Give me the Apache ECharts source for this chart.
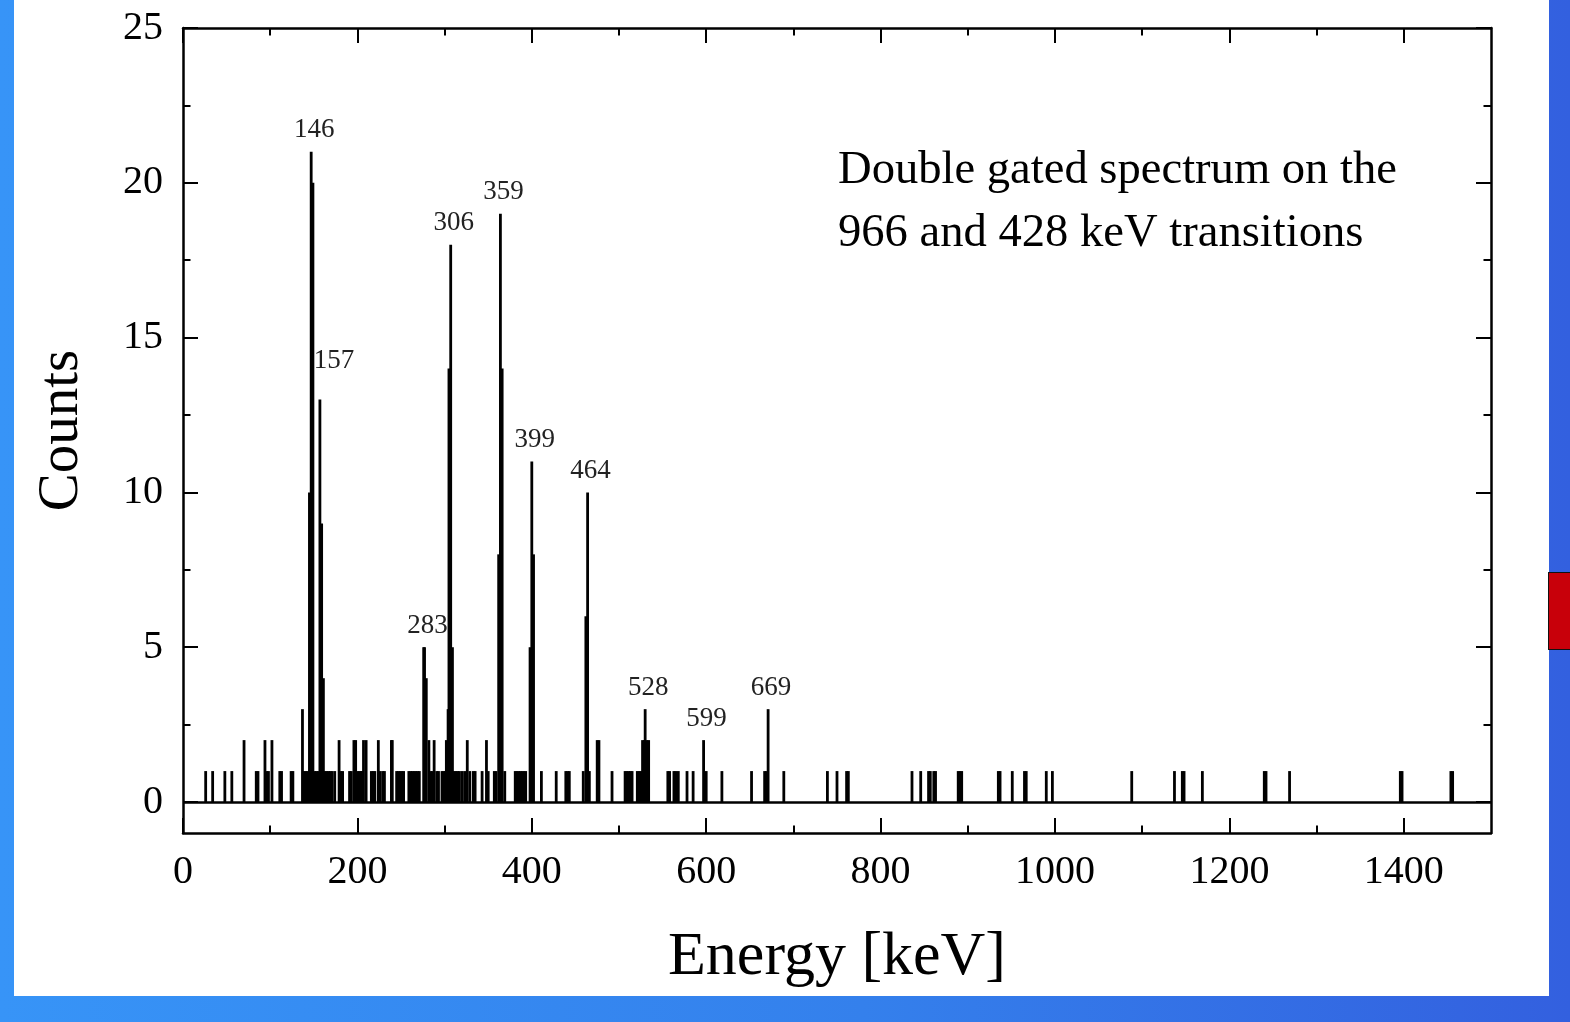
<!DOCTYPE html>
<html>
<head>
<meta charset="utf-8">
<script src="https://cdn.jsdelivr.net/npm/echarts@6/dist/echarts.min.js"></script>
<style>
  html, body { margin: 0; padding: 0; width: 1570px; height: 1022px; overflow: hidden; }
  body { background: linear-gradient(90deg, #3794f7 0%, #3480ec 55%, #3360df 100%); }
  #panel { position: absolute; left: 14px; top: 0; width: 1535px; height: 996px; background: #fff; }
  #tab { position: absolute; left: 1548px; top: 572px; width: 24px; height: 78px; background: #c8000a;
         border: 1.5px solid #111; box-sizing: border-box; }
  #chart { position: absolute; left: 0; top: 0; width: 1570px; height: 1022px; }
</style>
</head>
<body>
<div id="panel"></div>
<div id="tab"></div>
<div id="chart"></div>
<script>
// Gamma-ray spectrum, 1 keV channels that hold at least one count
const energies = [
  26, 34, 48, 56, 70, 84, 86, 94, 96, 98, 102, 111, 113, 124, 126,
  137, 139, 141, 143, 145, 147, 149, 151, 153, 155, 157, 159, 161,
  163, 165, 167, 169, 171, 174, 179, 181, 183, 191, 193, 196, 198,
  200, 202, 204, 205, 207, 210, 216, 218, 220, 224, 226, 229, 231,
  239, 240, 245, 247, 249, 251, 253, 259, 261, 263, 265, 267, 269, 271,
  276, 277, 279, 282, 284, 286, 288, 291, 293, 297, 299, 301,
  302, 304, 305, 307, 309, 311, 313, 315, 317, 320, 323, 326, 329, 333, 335,
  343, 348, 350, 357, 359, 362, 364, 366, 369,
  381, 383, 385, 387, 389, 391, 393, 398, 400, 402, 411, 428, 439, 441, 443,
  459, 462, 464, 466, 475, 477, 492, 507, 509, 511, 513, 515,
  521, 523, 525, 527, 529, 530, 532, 534, 556, 558, 563, 565, 568,
  578, 585, 597, 600, 618, 652, 667, 669, 671, 689,
  739, 750, 761, 763, 836, 846, 855, 857, 861, 863, 889, 891, 893,
  935, 937, 951, 965, 967, 990, 997, 1088, 1137, 1146, 1148, 1169,
  1240, 1242, 1269, 1396, 1398, 1454, 1456
];
const counts = [
  1, 1, 1, 1, 2, 1, 1, 2, 1, 1, 2, 1, 1, 1, 1,
  3, 1, 1, 1, 10, 21, 20, 1, 1, 1, 13, 9, 4,
  1, 1, 1, 1, 1, 1, 2, 1, 1, 1, 1, 2, 2,
  1, 1, 1, 1, 2, 2, 1, 1, 1, 2, 1, 1, 1,
  2, 2, 1, 1, 1, 1, 1, 1, 1, 1, 1, 1, 1, 1,
  5, 5, 4, 2, 1, 1, 2, 1, 1, 1, 1, 1,
  2, 3, 14, 18, 5, 1, 1, 1, 1, 1, 1, 2, 1, 1, 1,
  1, 2, 1, 1, 1, 8, 19, 14, 1,
  1, 1, 1, 1, 1, 1, 1, 5, 11, 8, 1, 1, 1, 1, 1,
  1, 6, 10, 1, 2, 2, 1, 1, 1, 1, 1, 1,
  1, 1, 1, 2, 2, 3, 2, 2, 1, 1, 1, 1, 1,
  1, 1, 2, 1, 1, 1, 1, 1, 3, 1,
  1, 1, 1, 1, 1, 1, 1, 1, 1, 1, 1, 1, 1,
  1, 1, 1, 1, 1, 1, 1, 1, 1, 1, 1, 1,
  1, 1, 1, 1, 1, 1, 1
];

// Peak identifications: label text and the channel it sits on
const peakNames    = ['146', '157', '283', '306', '359', '399', '464', '528', '599', '669'];
const peakChannels = [147,   157,   277,   307,   364,   400,   464,   530,   597,   671];

// Axis tick values
const xMajorTicks = [0, 200, 400, 600, 800, 1000, 1200, 1400];
const xMinorTicks = [100, 300, 500, 700, 900, 1100, 1300];
const yMajorTicks = [0, 5, 10, 15, 20, 25];
const yMinorTicks = [2.5, 7.5, 12.5, 17.5, 22.5];

const SERIF = '"Liberation Serif", "DejaVu Serif", serif';
const INK = '#000';

const barData = energies.map((e, i) => {
  const k = peakChannels.indexOf(e);
  if (k < 0) return [e, counts[i]];
  const isSide = peakNames[k] === '157';
  return {
    value: [e, counts[i]],
    label: {
      show: true,
      position: 'top',
      distance: 8,
      offset: isSide ? [14, -17] : [3, 0],
      formatter: peakNames[k],
      fontFamily: SERIF,
      fontSize: 27,
      color: '#222'
    }
  };
});

function xAxisDef(pos, ticks, len, withLine, withLabels, name) {
  return {
    type: 'value', position: pos, min: 0, max: 1500,
    name: name || '', nameLocation: 'middle', nameGap: 94,
    nameTextStyle: { fontFamily: SERIF, fontSize: 62, color: INK },
    axisLine: { show: withLine, onZero: false, lineStyle: { color: INK, width: 2.5 } },
    axisTick: { show: true, inside: true, length: len, customValues: ticks,
                lineStyle: { color: INK, width: 2 } },
    axisLabel: { show: withLabels, customValues: ticks, margin: 19,
                 formatter: v => String(v),
                 fontFamily: SERIF, fontSize: 40, color: INK },
    splitLine: { show: false }
  };
}
function yAxisDef(pos, ticks, len, withLine, withLabels, name) {
  return {
    type: 'value', position: pos, min: -1, max: 25,
    name: name || '', nameLocation: 'middle', nameGap: 92, nameRotate: 90,
    nameTextStyle: { fontFamily: SERIF, fontSize: 57, color: INK },
    axisLine: { show: withLine, onZero: false, lineStyle: { color: INK, width: 2.5 } },
    axisTick: { show: true, inside: true, length: len, customValues: ticks,
                lineStyle: { color: INK, width: 2 } },
    axisLabel: { show: withLabels, customValues: ticks, margin: 20,
                 formatter: v => String(v),
                 fontFamily: SERIF, fontSize: 40, color: INK },
    splitLine: { show: false }
  };
}

const chart = echarts.init(document.getElementById('chart'), null, { renderer: 'canvas' });
chart.setOption({
  backgroundColor: 'transparent',
  animation: false,
  grid: { left: 183, right: 79, top: 28, bottom: 189, containLabel: false },
  xAxis: [
    xAxisDef('bottom', xMajorTicks, 15, true, true, 'Energy [keV]'),
    xAxisDef('bottom', xMinorTicks, 7.5, false, false),
    xAxisDef('top', xMajorTicks, 15, true, false),
    xAxisDef('top', xMinorTicks, 7.5, false, false)
  ],
  yAxis: [
    yAxisDef('left', yMajorTicks, 15, true, true, 'Counts'),
    yAxisDef('left', yMinorTicks, 7.5, false, false),
    yAxisDef('right', yMajorTicks, 15, true, false),
    yAxisDef('right', yMinorTicks, 7.5, false, false)
  ],
  graphic: [{
    type: 'text',
    left: 838,
    top: 139,
    style: {
      text: 'Double gated spectrum on the\n966 and 428 keV transitions',
      font: '46.6px ' + SERIF,
      lineHeight: 63,
      fill: INK
    }
  }],
  series: [{
    type: 'bar',
    xAxisIndex: 0,
    yAxisIndex: 0,
    data: barData,
    barWidth: 2.8,
    itemStyle: { color: INK },
    markLine: {
      silent: true,
      symbol: ['none', 'none'],
      label: { show: false },
      lineStyle: { color: INK, width: 2.5, type: 'solid' },
      data: [{ yAxis: 0 }]
    }
  }]
});
</script>
</body>
</html>
